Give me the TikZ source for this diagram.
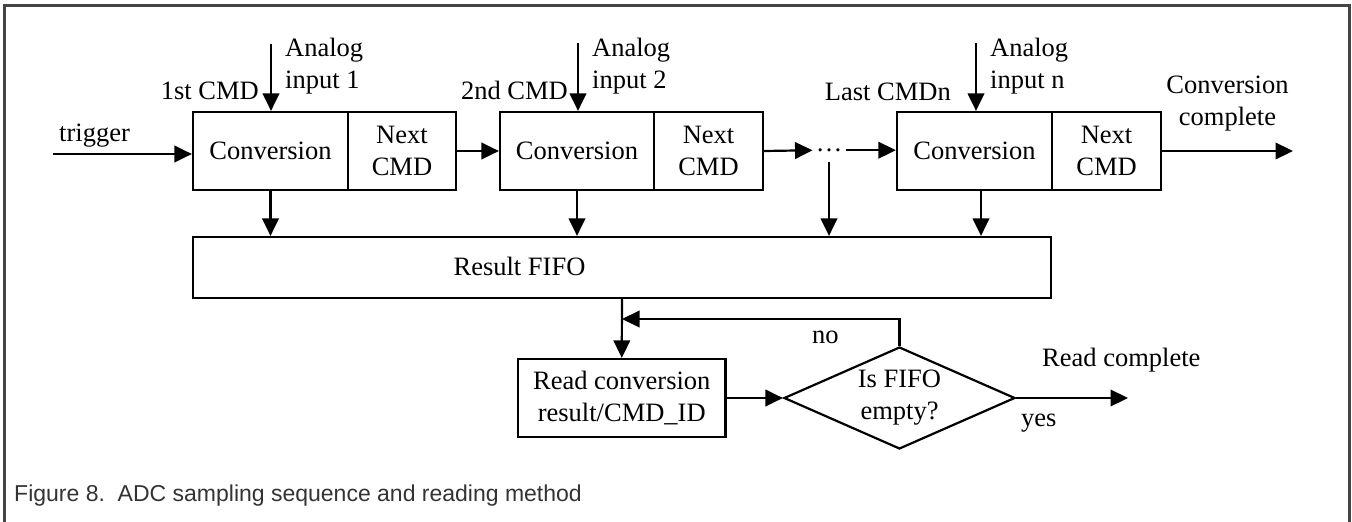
\documentclass[tikz,border=0pt]{standalone}
\usepackage{fontspec}
\setmainfont{Liberation Serif}
\newfontfamily\capfont{Liberation Sans}
\usetikzlibrary{arrows.meta,shapes.geometric,calc}
\definecolor{framegray}{HTML}{444444}
\definecolor{capgray}{HTML}{333333}
\tikzset{
  txt/.style={font=\fontsize{26.5pt}{32pt}\selectfont, inner sep=0pt},
  blk/.style={txt, draw, line width=2.2pt, minimum height=78pt, align=center},
  arr/.style={line width=2.2pt, -{Triangle[length=17.5pt,width=16.5pt]}},
}
\begin{document}
\begin{tikzpicture}[x=1pt,y=-1pt]
\useasboundingbox (0,0) rectangle (1352,522);
% frame
\draw[framegray, line width=3pt] (4.5,522) -- (4.5,5.5) -- (1349.5,5.5) -- (1349.5,522);

% command blocks
\node[blk, minimum width=155pt] (conv1) at (270.5,151) {Conversion};
\node[blk, minimum width=108pt] (next1) at (402,151) {Next\\CMD};
\node[blk, minimum width=154pt] (conv2) at (577,151) {Conversion};
\node[blk, minimum width=109pt] (next2) at (708.5,151) {Next\\CMD};
\node[blk, minimum width=155pt] (conv3) at (974.5,151) {Conversion};
\node[blk, minimum width=109pt] (next3) at (1106.5,151) {Next\\CMD};
\node[txt] (dots) at (829,150.2) {…};

% result FIFO
\node[blk, minimum width=858pt, minimum height=61pt] (fifo) at (622,267.5) {};
\node[txt, anchor=base] (fifotxt) at (519.5,275) {Result FIFO};

% read + decision
\node[blk, minimum width=207.5pt] (read) at (621.75,398) {Read conversion\\result/CMD\_ID};
\node[txt, draw, line width=2.2pt, diamond, aspect=2.2, minimum width=231pt, minimum height=102pt, align=center] (dia) at (899.5,398) {Is FIFO\\empty?};

% labels
\node[txt, anchor=base west] (trig) at (59,141) {trigger};
\node[txt, anchor=base east] (c1lbl) at (259,99) {1st CMD};
\node[txt, anchor=base east] (c2lbl) at (568,99) {2nd CMD};
\node[txt, anchor=base east] (c3lbl) at (951,100) {Last CMDn};
\node[txt, anchor=west, align=left] (an1) at (285,66.5) {Analog\\input 1};
\node[txt, anchor=west, align=left] (an2) at (592,66.5) {Analog\\input 2};
\node[txt, anchor=west, align=left] (an3) at (990,66.5) {Analog\\input n};
\node[txt, align=center] (cc) at (1227.5,103.5) {Conversion\\complete};
\node[txt, anchor=base west] (no) at (812,343) {no};
\node[txt, anchor=base west] (yes) at (1021,426) {yes};
\node[txt, anchor=base west] (rc) at (1042,366) {Read complete};
\node[anchor=base west, inner sep=0pt, text=capgray, font=\capfont\fontsize{23pt}{27pt}\selectfont] (cap) at (14,501) {Figure 8.\ \ ADC sampling sequence and reading method};

% coordinates for free ends
\coordinate (ts) at (53,154);
\coordinate (a1) at (271,44);
\coordinate (a2) at (578,43);
\coordinate (a3) at (976,43);
\coordinate (out) at (1293,151);
\coordinate (j) at (622,319);
\coordinate (rcend) at (1128,398);

% connectors
\draw[arr] (ts) -- (ts -| conv1.west);
\draw[arr] (a1) -- (a1 |- conv1.north);
\draw[arr] (a2) -- (a2 |- conv2.north);
\draw[arr] (a3) -- (a3 |- conv3.north);
\draw[arr] (next1.east) -- (conv2.west);
\draw[arr, shorten >=3pt] (next2.east) -- (dots.west);
\draw[arr, shorten <=4pt] (dots.east) -- (dots.east -| conv3.west);
\draw[arr] (next3.east) -- (out);
\draw[arr] (conv1.south) -- (conv1.south |- fifo.north);
\draw[arr] (conv2.south) -- (conv2.south |- fifo.north);
\draw[arr, shorten <=10pt] (dots.south) -- (dots.south |- fifo.north);
\draw[arr] ([xshift=6.5pt]conv3.south) -- ([xshift=6.5pt]conv3.south |- fifo.north);
\draw[arr] (fifo.south) -- (read.north);
\draw[arr] (read.east) -- (dia.west);
\draw[arr] (dia.north) |- (j);
\draw[arr] (dia.east) -- (rcend);
\end{tikzpicture}
\end{document}
